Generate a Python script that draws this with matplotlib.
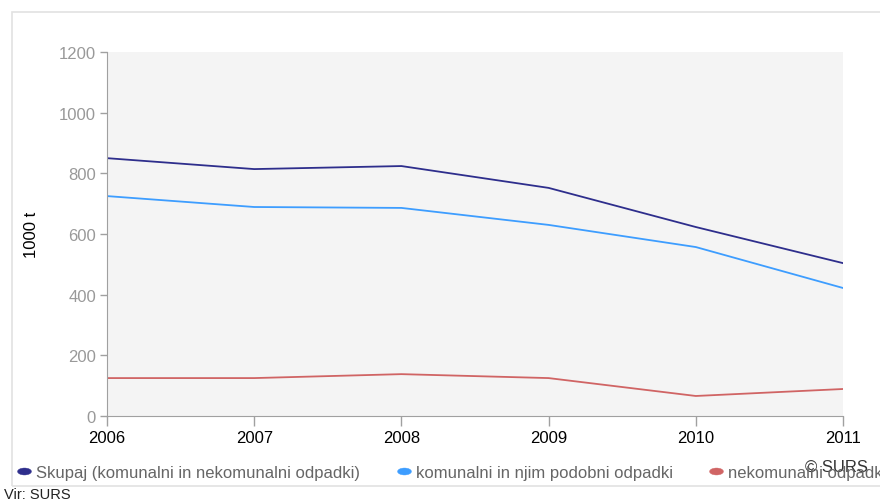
import matplotlib.pyplot as plt
from matplotlib.lines import Line2D
from matplotlib.patches import Rectangle
from matplotlib.path import Path
from matplotlib.transforms import Affine2D

plt.rcParams['font.family'] = ['Liberation Sans', 'DejaVu Sans']

years = [2006, 2007, 2008, 2009, 2010, 2011]
skupaj = [850, 814, 824, 752, 623, 504]
komunalni = [725, 689, 686, 630, 557, 422]
nekomunalni = [125, 125, 138, 125, 66, 89]

labels = ['Skupaj (komunalni in nekomunalni odpadki)',
          'komunalni in njim podobni odpadki',
          'nekomunalni odpadki']
colors = ['#2e2e8c', '#3d9dff', '#d06464']
y_ticks = [0, 200, 400, 600, 800, 1000, 1200]

fig = plt.figure(figsize=(8.8, 5.02), dpi=100)
W, H = 880, 502

# light frame around chart
fig.patches.append(Rectangle((12 / W, 1 - 487 / H), 1.0, (487 - 13) / H,
                             transform=fig.transFigure, fill=False,
                             edgecolor='#e2e2e2', linewidth=1.2))

ax = fig.add_axes([107 / W, 1 - 417 / H, (843 - 107) / W, (417 - 53) / H])
ax.set_facecolor('#f4f4f4')

for vals, c, lab in zip([skupaj, komunalni, nekomunalni], colors, labels):
    ax.plot(years, vals, color=c, linewidth=1.3, label=lab)

ax.set_xlim(2006, 2011)
ax.set_ylim(0, 1200)
ax.set_xticks(years)
ax.set_yticks(y_ticks)
ax.tick_params(axis='y', colors='#a0a0a0', labelcolor='#999999', labelsize=12,
               length=5, width=1, pad=3)
ax.tick_params(axis='x', colors='#a0a0a0', labelcolor='black', labelsize=12,
               length=7, width=1, pad=3)
for s in ['top', 'right']:
    ax.spines[s].set_visible(False)
for s in ['left', 'bottom']:
    ax.spines[s].set_color('#a0a0a0')
ax.set_ylabel('1000 t', fontsize=12, labelpad=14)

# ellipse-shaped legend keys
ell = Path.unit_circle().transformed(Affine2D().scale(1, 0.5))
handles = [Line2D([], [], linestyle='none', marker=ell, markersize=10,
                  markerfacecolor=c, markeredgecolor=c, markeredgewidth=0.3)
           for c in colors]
leg = fig.legend(handles, labels, loc='lower left', ncol=3,
                 bbox_to_anchor=(17 / W, 1 - 481 / H), frameon=False,
                 fontsize=12, handlelength=0.84, handletextpad=0.3,
                 columnspacing=2.2, borderpad=0, borderaxespad=0)
for t in leg.get_texts():
    t.set_color('#666666')

fig.text(805 / W, 1 - 467 / H, '© SURS', fontsize=12, color='#333333',
         va='center', ha='left')
fig.text(4 / W, 1 - 495 / H, 'Vir: SURS', fontsize=10.5, color='#222222',
         va='center', ha='left')

fig.savefig('out.png', dpi=100)
